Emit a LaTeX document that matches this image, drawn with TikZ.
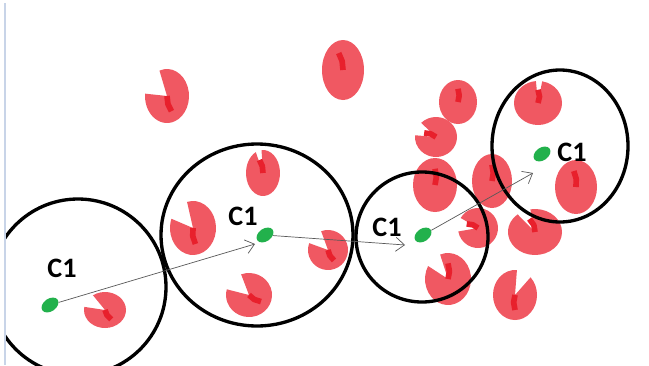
\documentclass[tikz,border=0pt]{standalone}
\usepackage{fontspec}
\newfontfamily\tagfont{Carlito}
\usetikzlibrary{shapes.geometric,arrows.meta}

\definecolor{cellred}{RGB}{240,88,98}
\definecolor{cellcore}{RGB}{232,32,44}
\definecolor{seedgreen}{RGB}{34,177,76}
\definecolor{edgeblue}{RGB}{200,212,232}

\tikzstyle{cellbody}=[fill=cellred]
\tikzstyle{streak}=[draw=cellcore,line width=0.17cm,line join=round]
\tikzstyle{ring}=[draw=black,line width=0.1cm]
\tikzstyle{seed}=[ellipse,fill=seedgreen,minimum width=0.56cm,minimum height=0.38cm,inner sep=0pt,rotate=35]
\tikzstyle{tag}=[font=\tagfont\bfseries\fontsize{24}{28}\selectfont,inner sep=0pt]
\tikzstyle{link}=[draw=black!65,line width=0.6pt,-{Straight Barb[length=0.26cm,width=0.42cm]}]

% cell at (#1,#2), radii #3/#4, notch cut between angles #5 and #6, streak towards #7
\newcommand{\cell}[7]{%
  \begin{scope}[shift={(#1,#2)}]
    \fill[cellbody] (0,0) -- ({#3*cos(#6)},{#4*sin(#6)})
      arc[start angle=#6,end angle=#5+360,x radius=#3,y radius=#4] -- cycle;
    \draw[streak] ({0.6*#3*cos(#7)},{0.6*#4*sin(#7)})
      -- ({0.3*#3*cos(#7+12)},{0.3*#4*sin(#7+12)})
      -- (0,0);
  \end{scope}}

\begin{document}
\begin{tikzpicture}[x=0.03cm,y=-0.03cm]
\fill[white] (0,0) rectangle (649,365);
\useasboundingbox (0,0) rectangle (649,365);

% cells
\cell{167}{96}{22}{27}{185}{250}{70}
\cell{263}{173}{17}{23}{245}{265}{250}
\cell{193}{228}{23}{27}{200}{255}{80}
\cell{249}{295}{23}{22}{195}{250}{30}
\cell{105}{310}{21}{18}{190}{235}{60}
\cell{328}{250}{20}{20}{200}{250}{60}
\cell{343}{70}{21}{30}{0}{0}{250}
\cell{458}{102}{19}{22}{0}{0}{270}
\cell{436}{137}{21}{20}{185}{225}{200}
\cell{435}{185}{22}{27}{0}{0}{270}
\cell{492}{181}{20}{27}{0}{0}{270}
\cell{478}{228}{20}{20}{170}{210}{200}
\cell{448}{279}{23}{26}{210}{250}{270}
\cell{535}{232}{27}{23}{230}{260}{250}
\cell{515}{295}{22}{25}{275}{315}{90}
\cell{538}{103}{24}{22}{265}{280}{270}
\cell{576}{187}{21}{27}{0}{0}{260}

\draw[edgeblue,line width=0.06cm] (5,3) -- (5,365);

% search rings
\begin{scope}
\clip (6,0) rectangle (649,365);
\draw[ring] (78,287) circle [radius=88];
\draw[ring] (257,235) ellipse [x radius=96,y radius=91];
\draw[ring] (422,237) ellipse [x radius=66,y radius=65];
\draw[ring] (560,146) ellipse [x radius=68,y radius=76];
\end{scope}

% centroids
\node[seed] (g1) at (50,305) {};
\node[seed] (g2) at (265,235) {};
\node[seed] (g3) at (423,235) {};
\node[seed] (g4) at (542,154) {};

\node[tag] (c1) at (62,268) {C1};
\node[tag] (c2) at (243,216) {C1};
\node[tag] (c3) at (387,227) {C1};
\node[tag] (c4) at (572,152) {C1};

\coordinate (t1) at (255,244);
\coordinate (t2) at (405,245);
\coordinate (t3) at (533,173);

\draw[link] (g1) -- (t1);
\draw[link] (g2) -- (t2);
\draw[link] (g3) -- (t3);
\end{tikzpicture}
\end{document}
